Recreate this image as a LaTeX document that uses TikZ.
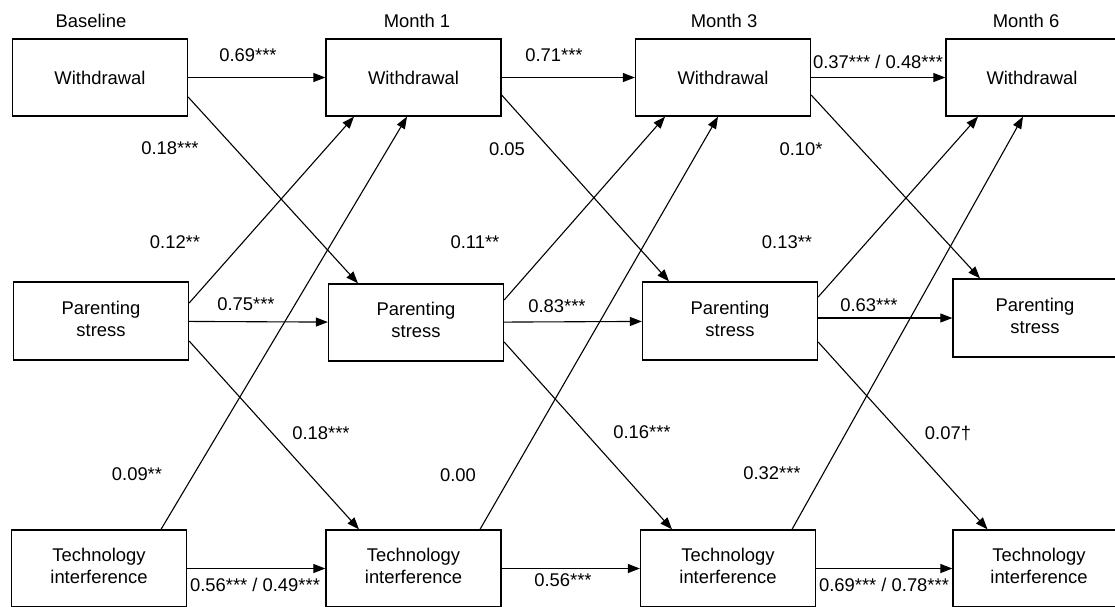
\documentclass[tikz,border=0pt]{standalone}
\usepackage{fontspec}
\setmainfont{Liberation Sans}
\usetikzlibrary{arrows.meta}

\tikzset{
	caja/.style={draw=black, line width=1.3pt, minimum width=175pt, minimum height=77pt, inner sep=0pt},
	flecha/.style={-{Triangle[length=12pt,width=9pt]}, line width=1.1pt},
	coef/.style={inner sep=0pt},
}

\begin{document}
\begin{tikzpicture}[x=1pt,y=-1pt,every node/.style={font=\fontsize{18.4}{22}\selectfont}]
		\useasboundingbox (0,0) rectangle (1115,606);
		
		% tiempos
		\node (hb) at (91,21) {Baseline};
		\node (h1) at (417,21) {Month 1};
		\node (h3) at (724,21) {Month 3};
		\node (h6) at (1026,21) {Month 6};
		
		% cajas
		\node[caja] (w0) at (100,77.5) {Withdrawal};
		\node[caja] (w1) at (413.5,77.5) {Withdrawal};
		\node[caja] (w3) at (723,77.5) {Withdrawal};
		\node[caja,minimum width=172pt] (w6) at (1032,77.5) {Withdrawal};
		
		\node[caja,minimum height=78pt] (p0) at (101,321) {\begin{tabular}{c}Parenting\\stress\end{tabular}};
		\node[caja] (p1) at (416,322.5) {\begin{tabular}{c}Parenting\\stress\end{tabular}};
		\node[caja,minimum height=78pt] (p3) at (730,321) {\begin{tabular}{c}Parenting\\stress\end{tabular}};
		\node[caja,minimum width=164pt,minimum height=78pt] (p6) at (1035,318) {\begin{tabular}{c}Parenting\\stress\end{tabular}};
		
		\node[caja] (t0) at (99,568.5) {\begin{tabular}{c}Technology\\interference\end{tabular}};
		\node[caja] (t1) at (413.5,568.5) {\begin{tabular}{c}Technology\\interference\end{tabular}};
		\node[caja] (t3) at (728,568.5) {\begin{tabular}{c}Technology\\interference\end{tabular}};
		\node[caja,minimum width=172pt] (t6) at (1039,568.5) {\begin{tabular}{c}Technology\\interference\end{tabular}};
		
		% estabilidad
		\draw[flecha] (w0) -- (w1);
		\draw[flecha] (w1) -- (w3);
		\draw[flecha] (w3) -- (w6);
		\draw[flecha] (p0) -- (p1);
		\draw[flecha] (p1) -- (p3);
		\draw[flecha] (p6.west -| p3.east) -- (p6.west);
		\draw[flecha] (t0) -- (t1);
		\draw[flecha] (t1) -- (t3);
		\draw[flecha] (t3) -- (t6);
		
		% cruzados baseline -> month 1
		\draw[flecha] ([yshift=-19.5pt]w0.east) -- ([xshift=-58pt]p1.north);
		\draw[flecha] ([yshift=18pt]p0.east) -- ([xshift=-59.5pt]w1.south);
		\draw[flecha] ([xshift=62pt]t0.north) -- ([xshift=-6.5pt]w1.south);
		\draw[flecha] ([yshift=-20pt]p0.east) -- ([xshift=-54.5pt]t1.north);
		
		% cruzados month 1 -> month 3
		\draw[flecha] ([yshift=-17.5pt]w1.east) -- ([xshift=-61pt]p3.north);
		\draw[flecha] ([yshift=22.5pt]p1.east) -- ([xshift=-58pt]w3.south);
		\draw[flecha] ([xshift=66.5pt]t1.north) -- ([xshift=-5pt]w3.south);
		\draw[flecha] ([yshift=-19.5pt]p1.east) -- ([xshift=-56pt]t3.north);
		
		% cruzados month 3 -> month 6
		\draw[flecha] ([yshift=-17.5pt]w3.east) -- ([xshift=-55pt]p6.north);
		\draw[flecha] ([yshift=24pt]p3.east) -- ([xshift=-54pt]w6.south);
		\draw[flecha] ([xshift=64pt]t3.north) -- ([xshift=-9pt]w6.south);
		\draw[flecha] ([yshift=-21pt]p3.east) -- ([xshift=-51.5pt]t6.north);
		
		% coeficientes
		\node[coef] (c1) at (248,55) {0.69***};
		\node[coef] (c2) at (554,55) {0.71***};
		\node[coef] (c3) at (878,62) {0.37*** / 0.48***};
		\node[coef] (c4) at (170,148) {0.18***};
		\node[coef] (c5) at (507,149) {0.05};
		\node[coef] (c6) at (801,149) {0.10*};
		\node[coef] (c7) at (175,242) {0.12**};
		\node[coef] (c8) at (475,242) {0.11**};
		\node[coef] (c9) at (787,242) {0.13**};
		\node[coef] (c10) at (246,304) {0.75***};
		\node[coef] (c11) at (557,306) {0.83***};
		\node[coef] (c12) at (869,305) {0.63***};
		\node[coef] (c13) at (321,433) {0.18***};
		\node[coef] (c14) at (642,432) {0.16***};
		\node[coef] (c15) at (948,433) {0.07†};
		\node[coef] (c16) at (137,474) {0.09**};
		\node[coef] (c17) at (458,475) {0.00};
		\node[coef] (c18) at (772,473) {0.32***};
		\node[coef] (c19) at (255,585) {0.56*** / 0.49***};
		\node[coef] (c20) at (563,580) {0.56***};
		\node[coef] (c21) at (884,585) {0.69*** / 0.78***};
		
	\end{tikzpicture}
\end{document}
